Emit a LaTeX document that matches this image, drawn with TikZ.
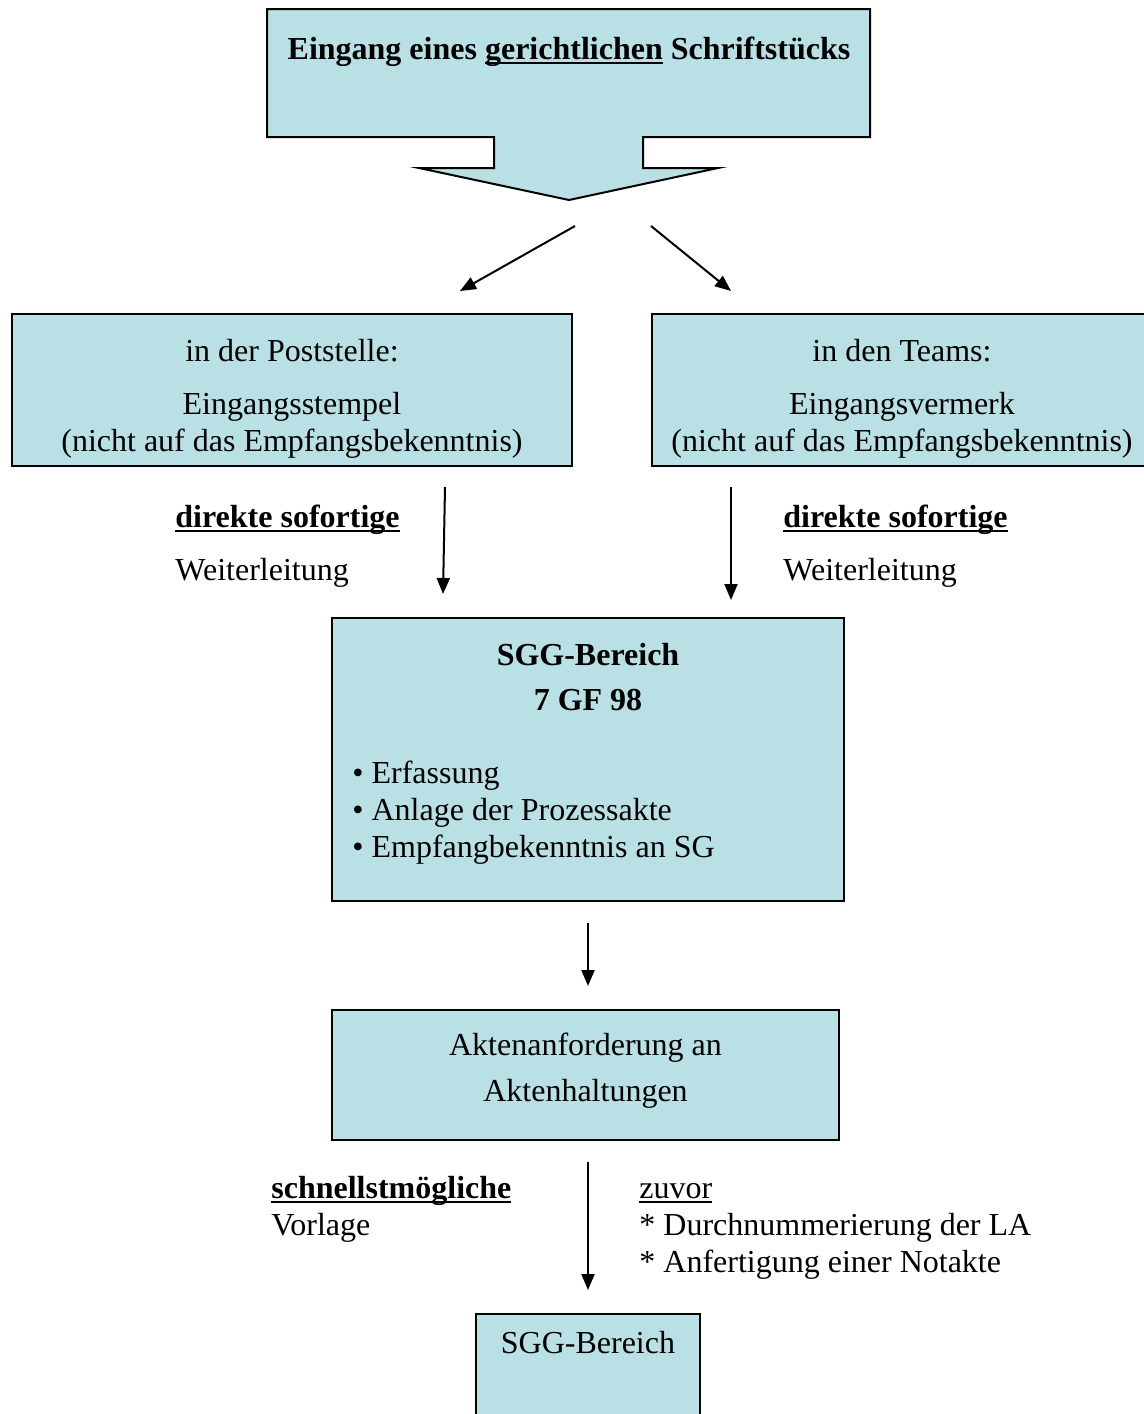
\documentclass[tikz,border=0pt]{standalone}
\usepackage{fontspec}
\setmainfont{Liberation Serif}
\usetikzlibrary{arrows.meta, positioning, calc}
\definecolor{boxcyan}{RGB}{185, 224, 228}
\newcommand{\undl}[1]{\setbox0\hbox{#1}\rlap{\rule[-2.4pt]{\wd0}{1.1pt}}\box0\relax}

\begin{document}
\begin{tikzpicture}[x=0.5pt, y=-0.5pt, font=\fontsize{16}{18.5}\selectfont,
  box/.style={draw=black, line width=1pt, fill=boxcyan, inner sep=0pt, anchor=north west},
  arr/.style={-{Triangle[length=8pt, width=6.5pt]}, line width=1pt},
  txt/.style={anchor=base, inner sep=0pt, align=center},
  lefttxt/.style={anchor=base west, inner sep=0pt, align=left}]
  \clip (0,0) rectangle (1144,1414);
  % big callout with its arrow
  \draw[line width=1pt, fill=boxcyan] (267,9) -- (870,9) -- (870,137) -- (643,137) -- (643,168)
    -- (718,168) -- (569,200) -- (419,168) -- (494,168) -- (494,137) -- (267,137) -- cycle;
  \node[txt, font=\fontsize{16}{18.5}\selectfont\bfseries] (title) at (569,59)
    {Eingang eines \undl{gerichtlichen} Schriftstücks};
  % boxes
  \node[box, minimum width=280pt, minimum height=76pt] (post) at (11,313) {};
  \node[box, minimum width=250pt, minimum height=76pt] (teams) at (651,313) {};
  \node[box, minimum width=256pt, minimum height=141.5pt] (sgg) at (331,617) {};
  \node[box, minimum width=253.5pt, minimum height=65pt] (akten) at (331,1009) {};
  \node[box, minimum width=112pt, minimum height=70pt] (last) at (475,1313) {};
  % box texts (multi-line nodes sit on their last line)
  \node[txt] (postA) at ($(post.north)+(0,48)$) {in der Poststelle:};
  \node[txt] (postB) at ($(post.north)+(0,138)$) {Eingangsstempel\\(nicht auf das Empfangsbekenntnis)};
  \node[txt] (teamsA) at ($(teams.north)+(0,48)$) {in den Teams:};
  \node[txt] (teamsB) at ($(teams.north)+(0,138)$) {Eingangsvermerk\\(nicht auf das Empfangsbekenntnis)};
  \node[txt, font=\fontsize{16}{22.5}\selectfont\bfseries] (sggA) at ($(sgg.north)+(0,93)$) {SGG-Bereich\\7 GF 98};
  \node[lefttxt] (sggB) at (352,857) {• Erfassung\\• Anlage der Prozessakte\\• Empfangbekenntnis an SG};
  \node[txt] (aktenA) at ($(akten.north)+(0,92)$) {Aktenanforderung an\\[4.5pt]Aktenhaltungen};
  \node[txt] (lastA) at ($(last.north)+(0,40)$) {SGG-Bereich};
  % free labels
  \node[lefttxt] (fwdL) at (175,527) {\textbf{\undl{direkte sofortige}}};
  \node[lefttxt] (fwdL2) at (175,580) {Weiterleitung};
  \node[lefttxt] (fwdR) at (783,527) {\textbf{\undl{direkte sofortige}}};
  \node[lefttxt] (fwdR2) at (783,580) {Weiterleitung};
  \node[lefttxt] (fast) at (271,1235) {\textbf{\undl{schnellstmögliche}}\\Vorlage};
  \node[lefttxt] (before) at (639,1272) {\undl{zuvor}\\* Durchnummerierung der LA\\* Anfertigung einer Notakte};
  % connectors
  \coordinate (splitL) at (575,226);
  \coordinate (splitR) at (651,226);
  \coordinate (inL) at (460,291);
  \coordinate (inR) at (731,291);
  \coordinate (outL) at (445,487);
  \coordinate (outR) at (731,487);
  \coordinate (sggL) at (443,594);
  \coordinate (sggR) at (731,600);
  \draw[arr] (splitL) -- (inL);
  \draw[arr] (splitR) -- (inR);
  \draw[arr] (outL) -- (sggL);
  \draw[arr] (outR) -- (sggR);
  \draw[arr, shorten <=10.5pt, shorten >=11.5pt] (sgg.south) -- (sgg.south |- akten.north);
  \draw[arr, shorten <=10.5pt, shorten >=11.5pt] (last.north |- akten.south) -- (last.north);
\end{tikzpicture}
\end{document}
